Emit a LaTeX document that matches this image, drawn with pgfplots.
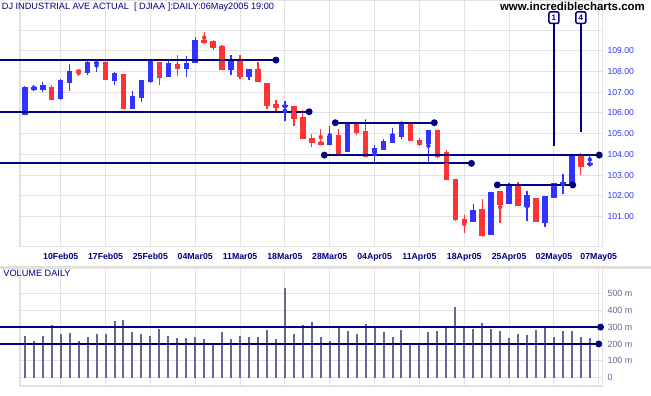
\documentclass[border=0pt]{standalone}
\usepackage{pgfplots}
\pgfplotsset{compat=1.18}
\usepackage{pgfplotstable}
\usepackage{fontspec}
\setmainfont{Liberation Sans}
\definecolor{navy}{HTML}{000080}
\definecolor{cred}{HTML}{FF3333}
\definecolor{cblue}{HTML}{3333FF}
\definecolor{gridc}{HTML}{E2E2E2}
\definecolor{volc}{HTML}{66669A}
\definecolor{sepc}{HTML}{E0E0D8}

\pgfplotstableread{
x open high low close
-4 105.91 107.32 105.88 107.27
-3 107.14 107.35 107.07 107.22
-2 107.11 107.49 107.02 107.35
0 106.67 107.62 106.65 107.59
1 107.46 108.36 107.06 108.04
3 107.94 108.56 107.83 108.47
4 108.35 108.60 107.99 108.46
6 107.56 107.99 107.35 107.94
8 106.17 107.07 106.17 106.82
9 106.73 107.59 106.54 107.59
10 107.51 108.52 107.43 108.52
12 107.75 108.59 107.75 108.42
14 108.14 108.75 107.75 108.42
15 108.42 109.68 108.42 109.52
19 108.07 108.81 107.83 108.59
21 107.75 108.12 107.59 108.12
25 106.27 106.59 105.62 106.38
30 104.48 105.37 104.48 104.90
32 104.10 105.50 104.10 105.50
35 104.05 104.45 103.57 104.32
36 104.21 104.77 104.21 104.64
37 104.56 105.29 104.56 104.97
38 104.85 105.62 104.77 105.57
41 104.48 105.20 103.64 105.17
46 100.74 101.60 100.74 101.31
48 100.10 102.19 100.10 102.19
50 101.60 102.60 101.60 102.48
52 101.47 102.23 100.78 102.03
54 100.70 101.99 100.50 101.99
55 101.90 102.60 101.90 102.60
56 102.53 103.05 102.10 102.65
57 102.52 104.00 102.52 103.97
59 103.50 104.01 103.50 103.55
}\upcandles

\pgfplotstableread{
x open high low close
-1 107.25 107.35 106.62 106.62
2 108.07 108.09 107.78 107.94
5 108.46 108.50 107.58 107.60
7 107.88 107.88 106.17 106.17
11 108.46 108.46 107.35 107.70
13 108.35 108.80 107.78 108.14
16 109.52 109.89 109.39 109.39
17 109.49 109.52 109.04 109.15
18 109.25 109.30 108.07 108.07
20 108.56 108.81 107.64 107.72
22 108.12 108.46 107.51 107.51
23 107.46 107.46 106.17 106.35
24 106.42 106.62 106.06 106.22
26 106.35 106.35 105.37 105.69
27 105.79 106.14 104.74 104.74
28 104.77 105.01 104.37 104.56
29 104.61 105.21 104.46 104.48
31 104.93 105.21 103.97 104.00
33 105.50 105.50 104.93 105.04
34 105.14 105.71 103.88 103.88
39 105.55 105.55 104.64 104.64
40 104.69 104.80 104.40 104.48
42 105.17 105.17 103.84 103.90
43 104.10 104.21 102.79 102.79
44 102.81 102.81 100.80 100.83
45 100.91 101.07 100.21 100.70
47 101.36 101.87 100.02 100.05
49 102.23 102.23 100.70 101.55
51 102.47 102.68 101.50 101.50
53 101.92 101.92 100.74 100.74
58 103.92 104.05 103.00 103.40
}\downcandles

\pgfplotstableread{
x vol
-4 246
-3 217
-2 246
-1 312
0 258
1 264
2 217
3 241
4 258
5 258
6 335
7 341
8 270
9 258
10 246
11 288
12 246
13 235
14 235
15 241
16 229
17 205
18 270
19 229
20 246
21 241
22 241
23 282
24 229
25 531
26 258
27 312
28 329
29 241
30 217
31 306
32 276
33 258
34 318
35 300
36 270
37 241
38 282
39 205
40 200
41 270
42 276
43 306
44 418
45 300
46 288
47 324
48 288
49 276
50 235
51 258
52 253
53 282
54 306
55 241
56 276
57 276
58 241
59 235
}\volume

\begin{document}
\begin{tikzpicture}[x=1bp,y=1bp]
\useasboundingbox (0,0) rectangle (651,395);
\fill[sepc] (0,126.5) rectangle (651,129.5);
\begin{axis}[
  scale only axis, anchor=south west, at={(20bp,148.3bp)},
  width=582.7bp, height=246.7bp,
  xmin=-4.54, xmax=60.44, ymin=99.55, ymax=111.45,
  clip=false,
  axis line style={gridc, line width=1.2bp},
  grid=major, grid style={gridc, line width=1bp},
  major tick length=0pt,
  xtick={0,5,...,60},
  xticklabels={10Feb05,17Feb05,25Feb05,04Mar05,11Mar05,18Mar05,28Mar05,04Apr05,11Apr05,18Apr05,25Apr05,02May05,07May05},
  xticklabel style={font=\fontsize{8.8}{10}\selectfont\bfseries, text=navy, inner sep=0pt, anchor=base, yshift=-12.6bp},
  ytick={101,...,109},
  extra y ticks={110}, extra y tick labels={},
  yticklabel pos=right,
  /pgf/number format/assume math mode=true,
  yticklabel={\pgfmathprintnumber[fixed,fixed zerofill,precision=2]{\tick}},
  yticklabel style={font=\fontsize{8.7}{10}\selectfont, text=cblue, anchor=west, inner sep=0pt, xshift=4.6bp},
]
% wicks
\addplot[cblue, only marks, mark=none, error bars/.cd, y dir=both, y explicit, error mark=none,
  error bar style={cblue, line width=1.3bp}]
  table[x=x, y expr={(\thisrow{high}+\thisrow{low})/2}, y error expr={(\thisrow{high}-\thisrow{low})/2}] {\upcandles};
\addplot[cred, only marks, mark=none, error bars/.cd, y dir=both, y explicit, error mark=none,
  error bar style={cred, line width=1.3bp}]
  table[x=x, y expr={(\thisrow{high}+\thisrow{low})/2}, y error expr={(\thisrow{high}-\thisrow{low})/2}] {\downcandles};
% bodies
\addplot[cblue, only marks, mark=none, error bars/.cd, y dir=both, y explicit, error mark=none,
  error bar style={cblue, line width=5.5bp}]
  table[x=x, y expr={(\thisrow{open}+\thisrow{close})/2}, y error expr={max(abs(\thisrow{close}-\thisrow{open})/2,0.05)}] {\upcandles};
\addplot[cred, only marks, mark=none, error bars/.cd, y dir=both, y explicit, error mark=none,
  error bar style={cred, line width=5.5bp}]
  table[x=x, y expr={(\thisrow{open}+\thisrow{close})/2}, y error expr={max(abs(\thisrow{close}-\thisrow{open})/2,0.05)}] {\downcandles};
% trend lines
\addplot[navy, line width=2.2bp, mark=*, mark indices={2}, mark size=2.3bp] coordinates {(-6.9,108.55) (24.0,108.55)};
\addplot[navy, line width=2.2bp, mark=*, mark indices={2}, mark size=2.3bp] coordinates {(-6.9,106.06) (27.7,106.06)};
\addplot[navy, line width=2.2bp, mark=*, mark indices={2}, mark size=2.3bp] coordinates {(-6.9,103.57) (45.8,103.57)};
\addplot[navy, line width=2.2bp, mark=*, mark size=2.3bp] coordinates {(29.4,103.97) (60.05,103.97)};
\addplot[navy, line width=2.2bp, mark=*, mark size=2.3bp] coordinates {(30.62,105.53) (41.66,105.53)};
\addplot[navy, line width=2.2bp, mark=*, mark size=2.3bp] coordinates {(48.69,102.53) (57.1,102.53)};
% event markers
\addplot[navy, line width=2bp] coordinates {(55,110.34) (55,104.40)};
\addplot[navy, line width=2bp] coordinates {(58,110.34) (58,105.09)};
\node[draw=navy, line width=1.5bp, fill=white, rounded corners=2bp, minimum width=10bp, minimum height=11.7bp, inner sep=0pt, font=\fontsize{8}{9}\selectfont\bfseries, text=navy] at (axis cs:55,110.60) {1};
\node[draw=navy, line width=1.5bp, fill=white, rounded corners=2bp, minimum width=10bp, minimum height=11.7bp, inner sep=0pt, font=\fontsize{8}{9}\selectfont\bfseries, text=navy] at (axis cs:58,110.60) {4};
\end{axis}

\begin{axis}[
  scale only axis, anchor=south west, at={(20bp,9bp)},
  width=582.7bp, height=118bp,
  xmin=-4.54, xmax=60.44, ymin=-49.2, ymax=649.9,
  clip=false,
  axis line style={gridc, line width=1.2bp},
  grid=major, grid style={gridc, line width=1bp},
  major tick length=0pt,
  xtick={0,5,...,60}, xticklabels={},
  ytick={0,100,...,500},
  yticklabels={0,100 m,200 m,300 m,400 m,500 m},
  yticklabel pos=right,
  yticklabel style={font=\fontsize{9}{10}\selectfont, text=volc, anchor=west, inner sep=0pt, xshift=4.6bp},
]
\addplot[ycomb, volc, line width=2bp] table[x=x, y=vol] {\volume};
\addplot[navy, line width=2.2bp, mark=*, mark indices={2}, mark size=2.3bp] coordinates {(-6.9,300) (60.2,300)};
\addplot[navy, line width=2.2bp, mark=*, mark indices={2}, mark size=2.3bp] coordinates {(-6.9,200) (60.0,200)};
\end{axis}

\node[anchor=base west, inner sep=0pt, font=\fontsize{9.2}{10}\selectfont, text=navy] at (1.7,386) {DJ INDUSTRIAL AVE ACTUAL\ \ [ DJIAA ]:DAILY:06May2005 19:00};
\node[anchor=base east, inner sep=0pt, font=\fontsize{11.5}{12}\selectfont\bfseries] at (645,385) {www.incrediblecharts.com};
\node[anchor=base west, inner sep=0pt, font=\fontsize{9.2}{10}\selectfont, text=navy] at (3.3,119) {VOLUME DAILY};
\end{tikzpicture}
\end{document}
